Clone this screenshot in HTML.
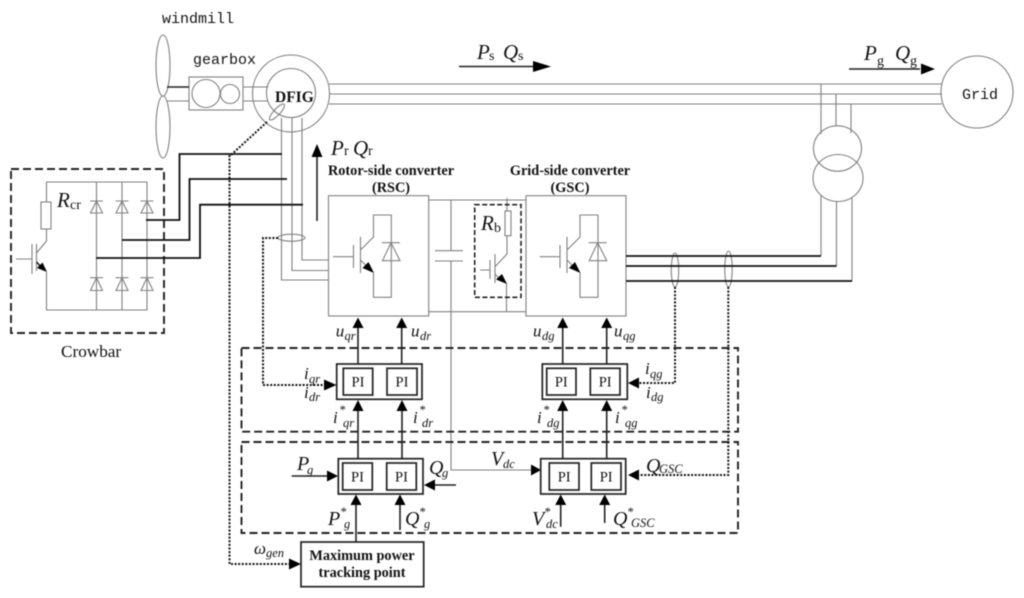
<!DOCTYPE html>
<html><head><meta charset="utf-8"><style>
html,body{margin:0;padding:0;background:#fff}
svg{display:block;filter:blur(0.45px)}
text{font-family:"Liberation Serif",serif;fill:#111}
.m{font-family:"Liberation Mono",monospace;font-size:15px}
.b{font-weight:bold;font-size:14.3px;text-anchor:middle}
.i{font-style:italic}
.L{font-size:21px}.S{font-size:14px}
.u{font-style:italic;font-size:17px}.n{font-style:italic;font-size:12.5px}
.pi{font-size:14.5px;text-anchor:middle}
.g{fill:none;stroke:#808080;stroke-width:1.1}
.k{fill:none;stroke:#111;stroke-width:1.8}
.t{fill:none;stroke:#222;stroke-width:1.6}
.d{fill:none;stroke:#222;stroke-width:1.9;stroke-dasharray:8 4}
.o{fill:none;stroke:#111;stroke-width:2;stroke-dasharray:2 1.6}
.box{fill:#fff;stroke:#222;stroke-width:1.7}
polygon{fill:#000}
</style></head><body>
<svg width="1024" height="598" viewBox="0 0 1024 598" xmlns="http://www.w3.org/2000/svg">
<text class="m" x="162" y="23">windmill</text>
<text class="m" x="193" y="64">gearbox</text>
<g class="g">
<ellipse cx="163" cy="65.5" rx="7" ry="30.5"/><ellipse cx="163" cy="127" rx="7" ry="31"/>
<path d="M167 101H189M243 87H268M243 101H268"/>
<rect x="189" y="77" width="54" height="33"/>
<circle cx="206" cy="93.5" r="14"/><circle cx="230" cy="94" r="9.5"/>
<circle cx="291" cy="93.5" r="38.5"/><circle cx="291" cy="93" r="24.5"/>
<ellipse cx="277" cy="112" rx="10.5" ry="3.2" transform="rotate(-47 277 112)"/>
<path d="M329 84H942M329 94H942M329 104H942"/>
<circle cx="977" cy="92" r="36"/>
<path d="M281.5 118V280H329M292 118V270.5H329M302 118V260H329"/>
<ellipse cx="291.5" cy="237.7" rx="13.5" ry="3.5"/>
</g>
<path class="t" d="M167 87H189"/>
<text x="275" y="102" style="font-weight:bold;font-size:15.5px">DFIG</text>
<text class="m" x="962" y="99">Grid</text>

<!-- power arrows -->
<path class="t" d="M459 66.5H535M849 69H920"/>
<polygon points="533,61 551,66.5 533,72"/><polygon points="921,63.5 935,69 921,74.5"/>
<text class="i L" x="477" y="59">P</text><text class="S" x="489" y="60">s</text>
<text class="i L" x="503" y="59">Q</text><text class="S" x="518" y="60">s</text>
<text class="i L" x="864" y="60">P</text><text class="S" x="877" y="65">g</text>
<text class="i L" x="895" y="60">Q</text><text class="S" x="910" y="65">g</text>
<path class="t" d="M317 221V156"/><polygon points="311.5,157 317,144 322.5,157"/>
<text class="i L" x="331" y="155">P</text><text class="S" x="344" y="155">r</text>
<text class="i L" x="353" y="155">Q</text><text class="S" x="368" y="155">r</text>

<text class="b" x="391" y="175">Rotor-side converter</text>
<text class="b" x="391" y="192">(RSC)</text>
<text class="b" x="570" y="175">Grid-side converter</text>
<text class="b" x="570" y="192">(GSC)</text>

<!-- crowbar -->
<rect class="d" x="11" y="169" width="153" height="164"/>
<g class="g">
<path d="M46.5 202V182H147V310H46.5V272M96.5 182V310M122 182V310"/>
<rect x="41" y="202" width="10" height="27"/>
<path d="M46.5 229V241L36.5 253M16 259H32M32 244V274M36.500 244V271"/>
<path d="M90 201H103M115.5 201H128.5M140.5 201H153.5M90 277.7H103M115.5 277.7H128.5M140.5 277.7H153.5"/>
<path d="M96.5 201L90.5 213H102.5ZM122 201L116 213H128ZM147 201L141 213H153ZM96.5 277.7L90.5 290.5H102.5ZM122 277.7L116 290.5H128ZM147 277.7L141 290.5H153Z"/>
</g>
<path class="t" d="M36.5 262L44 270"/><polygon points="47,272 37,268 42.5,262.5"/>
<text class="i L" x="57" y="207">R</text><text class="S" x="70" y="209">cr</text>
<text x="61" y="357" style="font-size:17.2px">Crowbar</text>
<path class="k" d="M282 154H179.5V220H146M287 179H189.5V240H122M303 204.7H200V258H96"/>

<!-- converters -->
<g class="g">
<rect x="328.5" y="195.7" width="100.2" height="120.3"/>
<rect x="526" y="195.7" width="100" height="120.3"/>
<path d="M428 200H526M428 311.7H526M451 200V250.7M435 250.7H463M435 261H463M451 261V470H532"/>
<path d="M333 256.7H353M353.5 245V268M360.5 236.7V273M360.5 250L373.5 237V215H391.3V297.3H373.5V272.7M382 242.7H400M391 242.7L382.5 260.7H400Z"/>
<path d="M539.7 256.7H559.7M560 245V268M567 236.7V273M567 250L580 237V215H598V297.3H580V272.7M588.7 242.7H606.7M597.7 242.7L589.2 260.7H606.7Z"/>
<rect x="505" y="211" width="6" height="24.7"/>
<path d="M507 198V211M507 235.7V254L495 266.7M480 270H490M490 260V279M495 254V283M506.5 283V312"/>
<path d="M360.5 260L368 267.5M567 260L574.5 267.5M495 274L501 280"/>
</g>
<polygon points="374,273 362.5,268 368.5,262"/><polygon points="580.5,273 569,268 575,262"/><polygon points="507,284 496,279.5 502,274"/>
<rect class="d" x="474.7" y="204.7" width="46.3" height="92.6" style="stroke-width:1.6;stroke-dasharray:5 2.5"/>
<text class="i L" x="481" y="230">R</text><text class="S" x="494" y="232">b</text>

<!-- grid side lines -->
<g class="g">
<ellipse cx="837.5" cy="148.5" rx="24" ry="22.7"/><ellipse cx="838" cy="178" rx="25" ry="23.5"/>
<path d="M821 84V134M836 94V126M851 104V133M821 195V256M836.5 201V266M852 198V281"/>
<ellipse cx="675" cy="270" rx="3.7" ry="17"/><ellipse cx="728.5" cy="269" rx="3.7" ry="18"/>
</g>
<path class="k" d="M626 256H821M626 266H836.5M626 281H852"/>

<!-- dashed control boxes -->
<rect class="d" x="241.5" y="348" width="496.5" height="83.7"/>
<rect class="d" x="241.5" y="442" width="496.5" height="91"/>

<!-- dotted -->
<path class="o" d="M267 122L231 155H229.5V564H290"/>
<path class="o" d="M278 238H263V385H325"/>
<path class="o" d="M675 287V383H639"/>
<path class="o" d="M728.3 287V475H639"/>

<!-- arrows -->
<path class="t" d="M358 364V328M401.7 364V328M562.7 364V328M606.7 364V328"/>
<path class="t" d="M358 458.7V411M402 458.7V411M562.7 458.7V411M606.7 458.7V411"/>
<path class="t" d="M356 542V505M400 530V505M560.7 526.7V505M604.7 523V505"/>
<path class="t" d="M291.7 476H328M456 485H434"/>
<polygon points="352.5,328 358,317.5 363.5,328"/><polygon points="396.2,328 401.7,317.5 407.2,328"/><polygon points="557.2,328 562.7,317.5 568.2,328"/><polygon points="601.2,328 606.7,317.5 612.2,328"/>
<polygon points="352.5,411 358,400 363.5,411"/><polygon points="396.5,411 402,400 407.5,411"/><polygon points="557.2,411 562.7,400 568.2,411"/><polygon points="601.2,411 606.7,400 612.2,411"/>
<polygon points="350.5,505 356,494.5 361.5,505"/><polygon points="394.5,505 400,494.5 405.5,505"/><polygon points="555.2,505 560.7,494.5 566.2,505"/><polygon points="599.2,505 604.7,494.5 610.2,505"/>
<polygon points="327,470.5 338,476 327,481.5"/><polygon points="435,479.5 424,485 435,490.5"/>
<polygon points="531,464.5 541,470 531,475.5"/>
<polygon points="324,379.5 336.5,385 324,390.5"/>
<polygon points="639,377.5 628,383 639,388.5"/><polygon points="639,469.5 628,475 639,480.5"/>
<polygon points="289,558.5 301,564 289,569.5"/>

<!-- PI blocks -->
<g>
<rect class="box" x="336.7" y="364" width="85.3" height="35.3"/><rect class="box" x="343.3" y="368.3" width="29.4" height="26.7"/><rect class="box" x="387" y="368.3" width="30" height="26.7"/>
<rect class="box" x="338.3" y="458.7" width="84.7" height="35.3"/><rect class="box" x="342.7" y="463" width="29.6" height="27"/><rect class="box" x="386.7" y="463" width="29.6" height="27"/>
<rect class="box" x="542.3" y="364" width="85" height="35.3"/><rect class="box" x="546.7" y="368.3" width="29.3" height="26.7"/><rect class="box" x="590.3" y="368.3" width="29.7" height="26.7"/>
<rect class="box" x="540.7" y="458.7" width="85" height="35.3"/><rect class="box" x="549.3" y="463" width="29.7" height="27"/><rect class="box" x="591.3" y="463" width="29.7" height="27"/>
</g>
<text class="pi" x="358" y="386.7">PI</text><text class="pi" x="402" y="386.7">PI</text>
<text class="pi" x="357.5" y="481.5">PI</text><text class="pi" x="401.5" y="481.5">PI</text>
<text class="pi" x="561.3" y="386.7">PI</text><text class="pi" x="605.2" y="386.7">PI</text>
<text class="pi" x="564.2" y="481.5">PI</text><text class="pi" x="606.2" y="481.5">PI</text>

<rect class="box" x="301" y="542" width="122.7" height="44.7"/>
<text class="b" x="362" y="560">Maximum power</text>
<text class="b" x="362" y="577">tracking point</text>

<!-- labels -->
<text class="u" x="335.7" y="336.7">u</text><text class="n" x="344.5" y="340">qr</text>
<text class="u" x="411" y="336.7">u</text><text class="n" x="420" y="340">dr</text>
<text class="u" x="533" y="336.7">u</text><text class="n" x="542" y="340">dg</text>
<text class="u" x="614" y="336.7">u</text><text class="n" x="623" y="340">qg</text>

<text class="u" x="304" y="379">i</text><text class="n" x="309" y="383">qr</text>
<text class="u" x="304" y="398">i</text><text class="n" x="309" y="401">dr</text>
<text class="u" x="645" y="374">i</text><text class="n" x="650" y="378">qg</text>
<text class="u" x="646" y="398">i</text><text class="n" x="651" y="401">dg</text>

<text class="u" x="333" y="423">i</text><text class="n" x="339" y="414">*</text><text class="n" x="343" y="427">qr</text>
<text class="u" x="413" y="423">i</text><text class="n" x="419" y="414">*</text><text class="n" x="422" y="427">dr</text>
<text class="u" x="537" y="423">i</text><text class="n" x="543" y="414">*</text><text class="n" x="547" y="427">dg</text>
<text class="u" x="615" y="423">i</text><text class="n" x="621" y="414">*</text><text class="n" x="625" y="427">qg</text>

<text class="i" x="297" y="470" style="font-size:20px">P</text><text class="n" x="307" y="474">g</text>
<text class="i" x="429" y="474" style="font-size:20px">Q</text><text class="n" x="442" y="477">g</text>
<text class="i" x="328" y="525" style="font-size:20px">P</text><text class="n" x="340" y="516">*</text><text class="n" x="344" y="528">g</text>
<text class="i" x="405" y="525" style="font-size:20px">Q</text><text class="n" x="419" y="516">*</text><text class="n" x="424" y="528">g</text>
<text class="i" x="491" y="465" style="font-size:20px">V</text><text class="n" x="503" y="468">dc</text>
<text class="i" x="532" y="525" style="font-size:20px">V</text><text class="n" x="544" y="516">*</text><text class="n" x="546" y="528">dc</text>
<text class="i" x="613" y="525" style="font-size:20px">Q</text><text class="n" x="627" y="516">*</text><text class="n" x="631" y="527">GSC</text>
<text class="i" x="646" y="472" style="font-size:20px">Q</text><text class="n" x="659" y="473">GSC</text>
<text class="u" x="254" y="554">ω</text><text class="n" x="266" y="557">gen</text>
</svg>
</body></html>
